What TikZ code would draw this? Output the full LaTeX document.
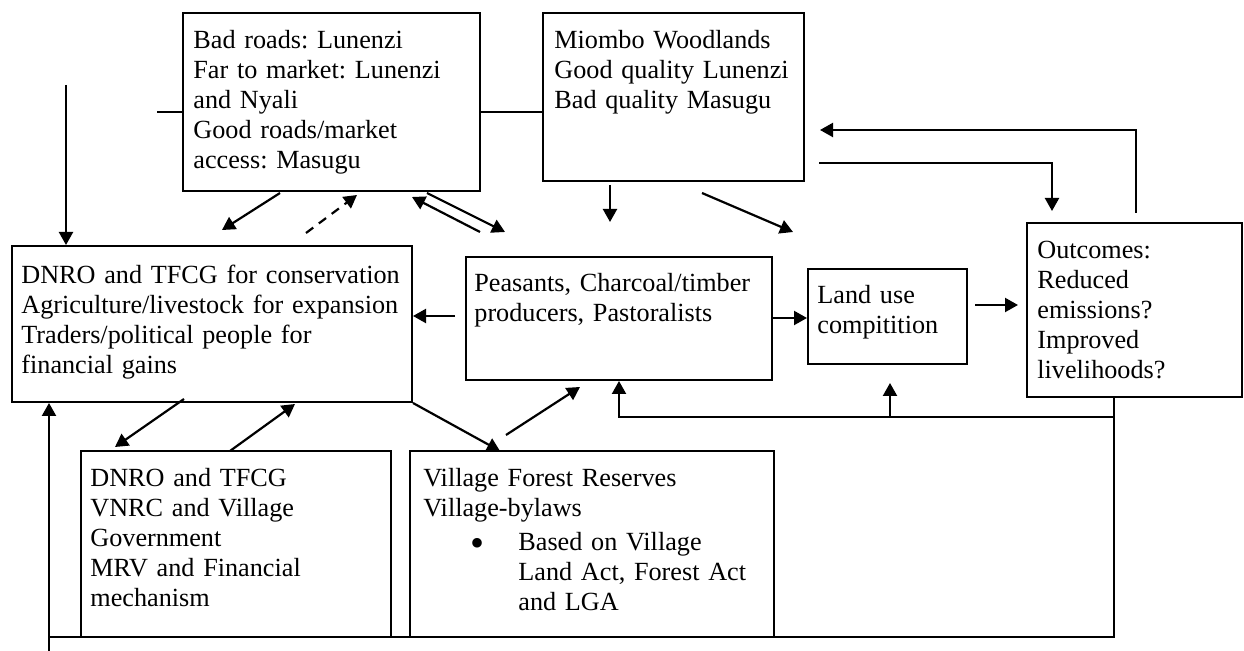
\documentclass[tikz,border=0pt]{standalone}
\usepackage{fontspec}
\setmainfont{Liberation Serif}
\usetikzlibrary{arrows.meta,fit}
\frenchspacing

\begin{document}
\begin{tikzpicture}[x=0.5pt,y=-0.5pt,
  box/.style={draw, line width=1pt, inner sep=0pt},
  txt/.style={anchor=north west, inner sep=0pt, text width=#1, align=left,
              font=\fontsize{13.1pt}{15pt}\selectfont},
  conn/.style={line width=1.1pt},
  arr/.style={conn, -{Triangle[length=6.5pt,width=7pt]}},
  dasharr/.style={arr, dash pattern=on 4.5pt off 3.5pt}]
\useasboundingbox (0,0) rectangle (1244,651);

% boxes
\node[box, fit={(183,13)(480,191)}] (roads) {};
\node[box, fit={(543,13)(804,181)}] (miombo) {};
\node[box, fit={(12,246)(412,402)}] (dnro) {};
\node[box, fit={(466,257)(772,380)}] (peas) {};
\node[box, fit={(808,269)(967,364)}] (land) {};
\node[box, fit={(1027,223)(1242,397)}] (out) {};
\node[box, fit={(81,451)(391,637)}] (dnro2) {};
\node[box, fit={(410,451)(774,637)}] (village) {};

% box texts
\node[txt=140pt] (roadsT) at (193,27) {\strut Bad roads: Lunenzi\\Far to market: Lunenzi\\and Nyali\\Good roads/market\\access: Masugu};
\node[txt=122pt] (miomboT) at (554,27) {\strut Miombo Woodlands\\Good quality Lunenzi\\Bad quality Masugu};
\node[txt=194pt] (dnroT) at (21,262) {\strut DNRO and TFCG for conservation\\Agriculture/livestock for expansion\\Traders/political people for\\financial gains};
\node[txt=148pt] (peasT) at (474,270) {\strut Peasants, Charcoal/timber\\producers, Pastoralists};
\node[txt=74pt] (landT) at (817,282) {\strut Land use\\compitition};
\node[txt=100pt] (outT) at (1037,237) {\strut Outcomes:\\Reduced\\emissions?\\Improved\\livelihoods?};
\node[txt=148pt] (dnro2T) at (90,465) {\strut DNRO and TFCG\\VNRC and Village\\Government\\MRV and Financial\\mechanism};
\node[txt=175pt] (villageT) at (423,465) {\strut Village Forest Reserves\\Village-bylaws};
\node[anchor=center, inner sep=0pt, font=\fontsize{20pt}{20pt}\selectfont] (bullet) at (477,548) {•};
\node[txt=126pt] (villageL) at (518,529) {\strut Based on Village\\Land Act, Forest Act\\and LGA};

% plain links
\coordinate (stub) at (157,112);
\draw[conn] (stub) -- (stub -| roads.west);
\draw[conn] (roads.east |- stub) -- (miombo.west |- stub);

% arrow into the left box from above
\coordinate (topin) at (66,85);
\draw[arr] (topin) -- (topin |- dnro.north);

% arrows between the road box and the boxes below
\coordinate (rdA) at (280,193); \coordinate (rdB) at (222,230);
\draw[arr] (rdA) -- (rdB);
\coordinate (daA) at (306,233); \coordinate (daB) at (357,195);
\draw[dasharr] (daA) -- (daB);
\coordinate (prA) at (480,232); \coordinate (prB) at (412,197);
\draw[arr] (prA) -- (prB);
\coordinate (rpA) at (427,193); \coordinate (rpB) at (505,232);
\draw[arr] (rpA) -- (rpB);

% arrows out of the woodland box
\coordinate (mdA) at (610,185); \coordinate (mdB) at (610,222);
\draw[arr] (mdA) -- (mdB);
\coordinate (mlA) at (702,193); \coordinate (mlB) at (793,232);
\draw[arr] (mlA) -- (mlB);
\coordinate (moA) at (819,163); \coordinate (moB) at (1052,211);
\draw[arr] (moA) -- (moA -| moB) -- (moB);
\coordinate (omA) at (1136,213); \coordinate (omB) at (820,130);
\draw[arr] (omA) -- (omA |- omB) -- (omB);

% middle row
\coordinate (pdA) at (455,316);
\draw[arr] (pdA) -- (pdA -| dnro.east);
\coordinate (plY) at (0,318);
\draw[arr] (peas.east |- plY) -- (land.west |- plY);
\coordinate (loA) at (975,305); \coordinate (loB) at (1018,305);
\draw[arr] (loA) -- (loB);

% lower row
\coordinate (ddA) at (184,399); \coordinate (ddB) at (115,447);
\draw[arr] (ddA) -- (ddB);
\coordinate (udA) at (230,451); \coordinate (udB) at (295,404);
\draw[arr] (udA) -- (udB);
\coordinate (dvB) at (500,451);
\draw[arr] (dnro.south east) -- (dvB);
\coordinate (vpA) at (506,435); \coordinate (vpB) at (580,387);
\draw[arr] (vpA) -- (vpB);

% feedback loop from the outcomes
\coordinate (fbR) at (1114,637);
\coordinate (fbJ) at (1114,417);
\coordinate (lft) at (49,651);
\draw[conn] (out.south -| fbR) -- (fbR) -- (fbR -| lft);
\draw[arr] (fbJ) -- (fbJ -| peas.south) -- (peas.south);
\coordinate (landtip) at (890,383);
\draw[arr] (landtip |- fbJ) -- (landtip);
\draw[arr] (lft) -- (lft |- dnro.south);
\end{tikzpicture}
\end{document}
